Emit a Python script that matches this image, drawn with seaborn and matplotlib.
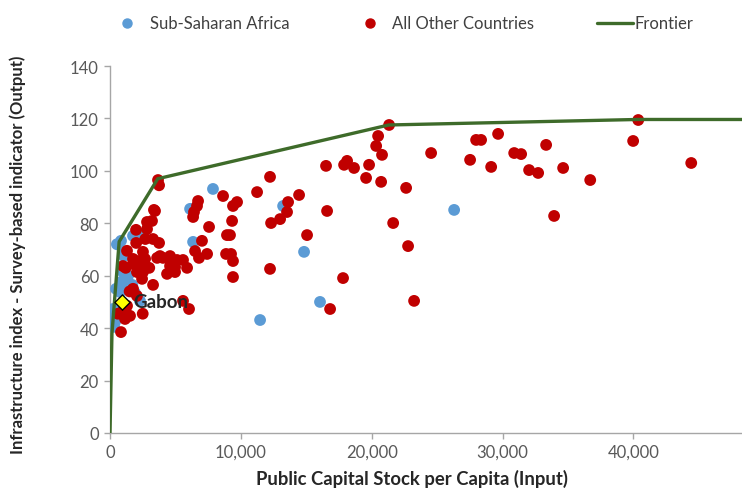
import matplotlib
matplotlib.use("Agg")
import matplotlib.pyplot as plt
import seaborn as sns
import pandas as pd
from matplotlib.lines import Line2D
from matplotlib.ticker import FuncFormatter

# ---- data ----
ssa_x = [230, 380, 150, 460, 760, 690, 840, 1150, 1380, 990, 1070, 990, 840, 530,
         1760, 2520, 1300, 2290, 1900, 1700, 6120, 6350, 7870, 13230, 14830,
         16050, 11470, 26300, 300]
ssa_y = [47.3, 42.3, 44.7, 55.0, 53.8, 55.7, 57.6, 58.8, 59.9, 61.4, 67.5, 69.4, 73.3, 72.0,
         75.2, 75.9, 56.0, 50.4, 53.5, 56.5, 85.5, 72.9, 93.1, 86.6, 69.1,
         50.0, 43.1, 85.1, 40.5]

oth_x = [40370, 39980, 44420, 27980, 28360, 29660, 27520, 29130, 30890, 31420, 33330, 32030,
         32720, 34630, 36700, 33940,
         21330, 20490, 20340, 20790, 24540,
         16510, 17890, 18120, 18650, 19800, 19570, 20720, 22630, 14450, 13610, 13530, 13000,
         16590, 15060, 21640, 22780, 17810, 16820, 23240,
         12230, 11240, 12310, 12230,
         9710, 9400, 9330, 9170, 9250, 9400, 9400,
         3670, 3750, 8640, 6730, 6650, 6420, 6350, 7570, 8940, 3440, 3210, 3290, 3750, 7030,
         6500, 7420, 8870, 6800, 3600, 4050, 4590, 5120, 5580, 4590, 4970, 5890, 4360, 4970,
         3360, 2830, 1990, 2830, 1760, 2220, 2680, 3820, 990, 1760, 2290, 2060, 2520, 2450,
         3290, 1760, 2060, 5580, 6040, 990, 1530, 1150, 840, 2520, 1300, 2700, 2000, 1500,
         1300, 2500, 1800, 3000, 1200, 600]
oth_y = [119.4, 111.4, 103.0, 111.8, 111.8, 114.1, 104.2, 101.5, 106.8, 106.4, 109.9, 100.3,
         99.2, 101.1, 96.5, 82.8,
         117.5, 113.3, 109.5, 106.1, 106.8,
         101.9, 102.3, 103.8, 101.1, 102.3, 97.3, 95.8, 93.5, 90.8, 88.1, 84.3, 81.6,
         84.7, 75.5, 80.1, 71.3, 59.1, 47.3, 50.4,
         97.7, 91.9, 80.1, 62.6,
         88.1, 86.6, 80.9, 75.5, 68.3, 65.6, 59.5,
         96.5, 94.5, 90.4, 88.5, 86.6, 84.3, 82.4, 78.6, 75.5, 84.7, 80.9, 74.0, 72.5, 73.3,
         69.4, 68.3, 68.3, 66.8, 66.8, 66.8, 67.5, 66.0, 66.0, 63.7, 63.3, 63.0, 60.7, 61.4,
         85.1, 80.5, 77.5, 77.8, 66.4, 65.6, 66.4, 67.5, 63.7, 64.5, 63.7, 61.4, 61.4, 58.8,
         56.5, 55.0, 52.3, 50.4, 47.3, 46.6, 44.7, 43.5, 38.5, 69.1, 69.5, 74.0, 72.5, 54.0,
         48.5, 45.5, 65.0, 63.0, 63.0, 45.5]

frontier_x = [0, 150, 700, 3650, 21300, 40300, 48300]
frontier_y = [0, 38, 73, 97, 117.5, 119.6, 119.6]

gabon_x = [920]
gabon_y = [50.0]
gabon_label = "Gabon"

series_names = ["Sub-Saharan Africa", "All Other Countries", "Frontier"]
colors = {"Sub-Saharan Africa": "#5B9BD5", "All Other Countries": "#C00000"}
frontier_color = "#3E6B2A"

df = pd.DataFrame({
    "x": ssa_x + oth_x,
    "y": ssa_y + oth_y,
    "group": [series_names[0]] * len(ssa_x) + [series_names[1]] * len(oth_x),
})
fr = pd.DataFrame({"x": frontier_x, "y": frontier_y})

sns.set_theme(style="white")
plt.rcParams["font.family"] = ["Lato", "DejaVu Sans"]

fig = plt.figure(figsize=(7.42, 4.89), dpi=100)
ax = fig.add_axes([110 / 742, 55 / 489, 1 - 110 / 742, 367 / 489])

sns.scatterplot(data=df, x="x", y="y", hue="group", palette=colors, s=72,
                edgecolor="none", linewidth=0, ax=ax, legend=False, zorder=3)
sns.lineplot(data=fr, x="x", y="y", sort=False, estimator=None, color=frontier_color,
             linewidth=2.4, ax=ax, zorder=4)
ax.scatter(gabon_x, gabon_y, marker="D", s=60, color="#FFFF00", edgecolor="black",
           linewidth=1.0, zorder=6)
ax.annotate(gabon_label, (gabon_x[0], gabon_y[0]), xytext=(8, 0), textcoords="offset points",
            va="center", ha="left", fontsize=13.5, fontweight="bold", color="#262626", zorder=7)

ax.set_xlim(0, 48300)
ax.set_ylim(0, 140)
ax.set_xticks([0, 10000, 20000, 30000, 40000])
ax.set_yticks(range(0, 141, 20))
ax.xaxis.set_major_formatter(FuncFormatter(lambda v, p: f"{int(v):,}"))

for side in ["top", "right"]:
    ax.spines[side].set_visible(False)
for side in ["left", "bottom"]:
    ax.spines[side].set_color("#A6A6A6")
    ax.spines[side].set_linewidth(1.0)
ax.tick_params(axis="both", which="major", direction="out", length=4, width=1,
               color="#A6A6A6", labelsize=12, labelcolor="#595959", pad=4)
ax.tick_params(left=True, bottom=True)

ax.set_xlabel("Public Capital Stock per Capita (Input)", fontsize=13.3, fontweight="bold",
              color="#262626")
ax.set_ylabel("Infrastructure index - Survey-based indicator (Output)", fontsize=12,
              fontweight="bold", color="#262626")
ax.xaxis.set_label_coords((412 - 110) / 632, -36 / 367)
ax.yaxis.set_label_coords(-84 / 632, (434 - 255) / 367)

# legend drawn at top
ly = 1 - 24 / 489
fig.add_artist(Line2D([127 / 742], [ly], marker="o", markersize=6.5, color=colors[series_names[0]],
                      linestyle="none", transform=fig.transFigure))
fig.text(150 / 742, ly, series_names[0], fontsize=12, color="#404040", va="center", ha="left")
fig.add_artist(Line2D([370 / 742], [ly], marker="o", markersize=6.5, color=colors[series_names[1]],
                      linestyle="none", transform=fig.transFigure))
fig.text(392 / 742, ly, series_names[1], fontsize=12, color="#404040", va="center", ha="left")
fig.add_artist(Line2D([597 / 742, 633 / 742], [ly, ly], color=frontier_color, linewidth=2.4,
                      transform=fig.transFigure))
fig.text(634 / 742, ly, series_names[2], fontsize=12, color="#404040", va="center", ha="left")

fig.savefig("out.png", dpi=100)
